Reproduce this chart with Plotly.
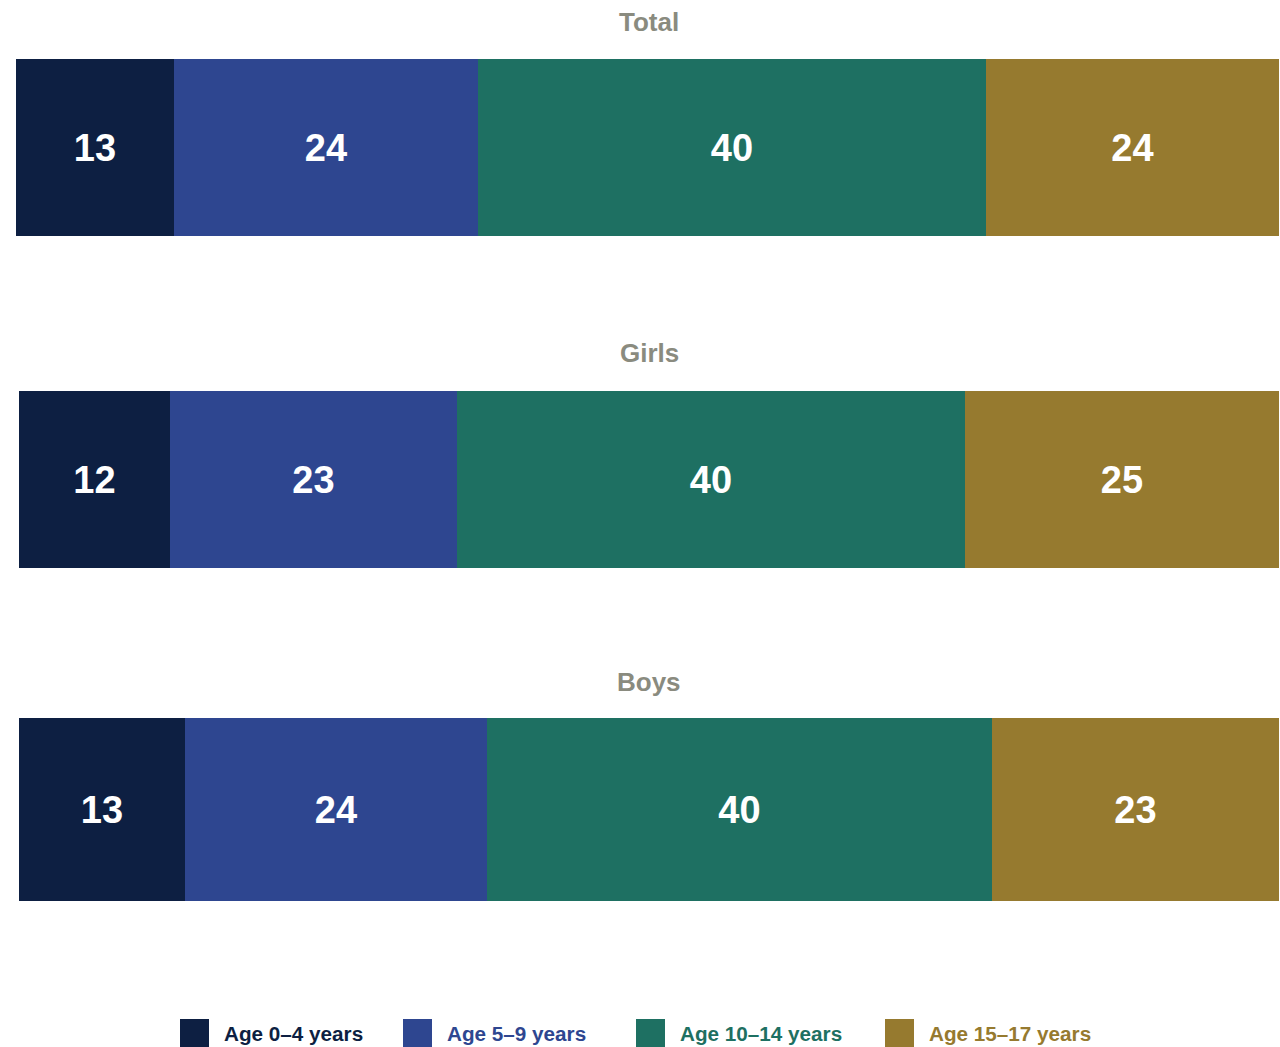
import plotly.graph_objects as go

# ---- data ----
groups = ["Total", "Girls", "Boys"]
series = ["Age 0–4 years", "Age 5–9 years", "Age 10–14 years", "Age 15–17 years"]
colors = ["#0D1F42", "#2E4690", "#1E7062", "#967A2F"]

# estimated shares (bar widths)
total_values = [12.5, 24.1, 40.2, 23.2]
girls_values = [12.0, 22.8, 40.3, 24.9]
boys_values = [13.2, 24.0, 40.1, 22.8]

# printed labels
total_labels = ["13", "24", "40", "24"]
girls_labels = ["12", "23", "40", "25"]
boys_labels = ["13", "24", "40", "23"]

values = [total_values, girls_values, boys_values]
labels = [total_labels, girls_labels, boys_labels]

FONT = "Liberation Sans, Arial, sans-serif"
W, H = 1280, 1047

# layout geometry (pixels)
x_domains = [(16, 1279), (19, 1279), (19, 1279)]
y_domains = [(59, 236), (391, 568), (718, 901)]
title_y = [22, 353, 682]

fig = go.Figure()
layout_axes = {}
annotations = []
for g, grp in enumerate(groups):
    suffix = "" if g == 0 else str(g + 1)
    xa, ya = "x" + suffix, "y" + suffix
    for s, name in enumerate(series):
        fig.add_trace(go.Bar(
            y=[grp], x=[values[g][s]], orientation="h",
            name=name, marker=dict(color=colors[s], line=dict(width=0)),
            text=[labels[g][s]], textposition="inside", insidetextanchor="middle",
            textangle=0, constraintext="none",
            textfont=dict(family=FONT, size=38, color="white", weight="bold"),
            xaxis=xa, yaxis=ya, showlegend=False, hoverinfo="skip",
        ))
    x0, x1 = x_domains[g]
    y0, y1 = y_domains[g]
    layout_axes["xaxis" + suffix] = dict(
        domain=[x0 / W, x1 / W], range=[0, sum(values[g])], visible=False,
        anchor=ya, fixedrange=True)
    layout_axes["yaxis" + suffix] = dict(
        domain=[1 - y1 / H, 1 - y0 / H], visible=False, anchor=xa,
        range=[-0.5, 0.5], fixedrange=True)
    annotations.append(dict(
        text=grp, xref="paper", yref="paper", x=649 / W, y=1 - title_y[g] / H,
        xanchor="center", yanchor="middle", showarrow=False,
        font=dict(family=FONT, size=26, color="#8A8B7F", weight="bold")))

# custom legend
legend_x = [180, 403, 636, 885]
shapes = []
for s, name in enumerate(series):
    lx = legend_x[s]
    shapes.append(dict(type="rect", xref="paper", yref="paper",
                       x0=lx / W, x1=(lx + 29) / W, y0=1 - 1047 / H, y1=1 - 1019 / H,
                       fillcolor=colors[s], line=dict(width=0)))
    annotations.append(dict(
        text=name, xref="paper", yref="paper", x=(lx + 42) / W, y=1 - 1033 / H,
        xanchor="left", yanchor="middle", showarrow=False,
        font=dict(family=FONT, size=20.7, color=colors[s], weight="bold")))

fig.update_layout(
    width=W, height=H, margin=dict(l=0, r=0, t=0, b=0),
    paper_bgcolor="white", plot_bgcolor="white",
    barmode="stack", bargap=0, showlegend=False,
    annotations=annotations, shapes=shapes, **layout_axes)

fig.write_html("out.html", config={"displayModeBar": False},
               post_script="document.body.style.margin='0';document.body.style.overflow='hidden';")
